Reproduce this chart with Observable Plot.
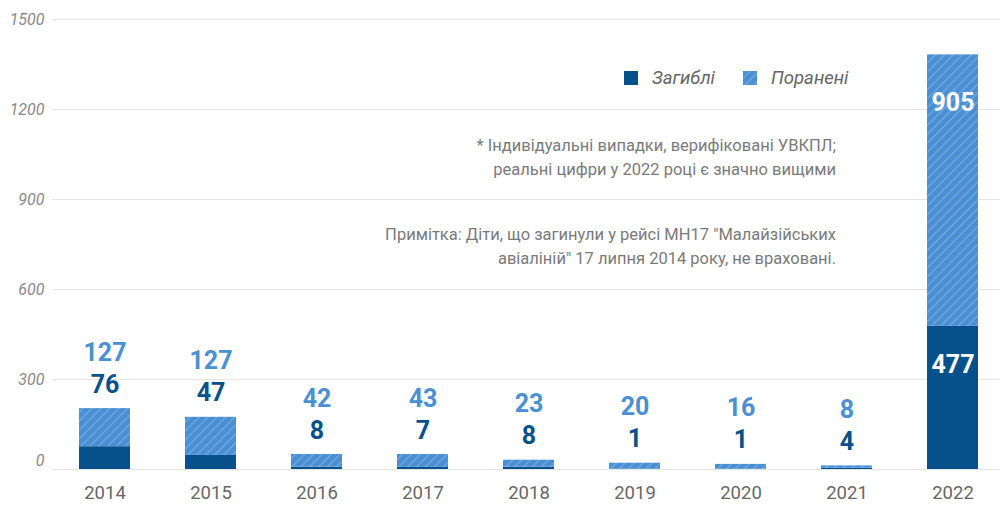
<!DOCTYPE html>
<html>
<head>
<meta charset="utf-8">
<script src="https://cdn.jsdelivr.net/npm/d3@7"></script>
<script src="https://cdn.jsdelivr.net/npm/@observablehq/plot@0.6"></script>
<style>
  body { margin: 0; background: #fff; }
  svg { display: block; }
</style>
</head>
<body>
<div id="chart"></div>
<script>
const years = ["2014", "2015", "2016", "2017", "2018", "2019", "2020", "2021", "2022"];
const killed = [76, 47, 8, 7, 8, 1, 1, 4, 477];
const wounded = [127, 127, 42, 43, 23, 20, 16, 8, 905];
const yTicks = [300, 600, 900, 1200, 1500];
const legendLabels = ["Загиблі", "Поранені"];
const noteLines = [
  "* Індивідуальні випадки, верифіковані УВКПЛ;",
  "реальні цифри у 2022 році є значно вищими",
  "Примітка: Діти, що загинули у рейсі МН17 \"Малайзійських",
  "авіаліній\" 17 липня 2014 року, не враховані."
];

const DARK = "#06518b";
const LIGHT = "#4a8fd3";
const LIGHT_TEXT = "#4b90d2";

const rows = years.map((year, i) => ({
  year, killed: killed[i], wounded: wounded[i], total: killed[i] + wounded[i]
}));
const outside = rows.filter(d => d.total < 1000);
const inside = rows.filter(d => d.total >= 1000);

const chart = Plot.plot({
  width: 1000,
  height: 521,
  marginTop: 19,
  marginBottom: 52,
  marginLeft: 52,
  marginRight: 0,
  style: { fontFamily: "Roboto, sans-serif", background: "#fff" },
  x: { domain: years, range: [52, 1005], paddingInner: 0.52, paddingOuter: 0.25, axis: null },
  y: { domain: [0, 1500], axis: null },
  marks: [
    Plot.gridY([0, ...yTicks], { stroke: "#e4e4e4", strokeOpacity: 1, strokeWidth: 1 }),
    Plot.axisY(yTicks, { tickSize: 0, tickPadding: 8, fontSize: 16, fontStyle: "italic", fill: "#8a8a8a", label: null, tickFormat: d => String(d) }),
    Plot.axisY([0], { tickSize: 0, tickPadding: 8, fontSize: 16, fontStyle: "italic", fill: "#8a8a8a", label: null, dy: -9, tickFormat: d => String(d) }),
    Plot.axisX({ tickSize: 0, tickPadding: 16, fontSize: 18.5, fill: "#666", label: null }),
    Plot.barY(rows, { x: "year", y1: 0, y2: "killed", fill: DARK }),
    Plot.barY(rows, { x: "year", y1: "killed", y2: "total", fill: "url(#hatch)" }),
    Plot.text(outside, { x: "year", y: "total", text: d => String(d.wounded), dy: -56, fill: LIGHT_TEXT, fontSize: 25, fontWeight: "bold", lineAnchor: "middle" }),
    Plot.text(outside, { x: "year", y: "total", text: d => String(d.killed), dy: -24, fill: DARK, fontSize: 25, fontWeight: "bold", lineAnchor: "middle" }),
    Plot.text(inside, { x: "year", y: "total", text: d => String(d.wounded), dy: 48, fill: "#fff", fontSize: 25, fontWeight: "bold", lineAnchor: "middle" }),
    Plot.text(inside, { x: "year", y: "killed", text: d => String(d.killed), dy: 39, fill: "#fff", fontSize: 25, fontWeight: "bold", lineAnchor: "middle" })
  ]
});

const svg = d3.select(chart);
const defs = svg.insert("defs", ":first-child");
const pat = defs.append("pattern")
  .attr("id", "hatch")
  .attr("patternUnits", "userSpaceOnUse")
  .attr("width", 6.3).attr("height", 6.3)
  .attr("patternTransform", "rotate(45)");
pat.append("rect").attr("width", 6.3).attr("height", 6.3).attr("fill", LIGHT);
pat.append("line").attr("x1", 1).attr("y1", 0).attr("x2", 1).attr("y2", 6.3)
  .attr("stroke", "#ffffff").attr("stroke-opacity", 0.3).attr("stroke-width", 1);

// legend
const lg = svg.append("g").attr("font-family", "Roboto, sans-serif").attr("text-anchor", "start");
lg.append("rect").attr("x", 624).attr("y", 71).attr("width", 14).attr("height", 14).attr("fill", DARK);
lg.append("text").attr("x", 652).attr("y", 78).attr("dy", "0.35em").attr("font-size", 18.5)
  .attr("font-style", "italic").attr("fill", "#666").text(legendLabels[0]);
lg.append("rect").attr("x", 743).attr("y", 71).attr("width", 14).attr("height", 14).attr("fill", "url(#hatch)");
lg.append("text").attr("x", 771).attr("y", 78).attr("dy", "0.35em").attr("font-size", 18.5)
  .attr("font-style", "italic").attr("fill", "#666").text(legendLabels[1]);

// notes
const noteY = [145, 169, 234, 258];
const ng = svg.append("g").attr("font-family", "Roboto, sans-serif").attr("font-size", 16.5)
  .attr("fill", "#7a7a7a").attr("text-anchor", "end");
noteLines.forEach((t, i) => {
  ng.append("text").attr("x", 836).attr("y", noteY[i]).attr("dy", "0.35em").text(t);
});

document.getElementById("chart").appendChild(chart);
</script>
</body>
</html>
